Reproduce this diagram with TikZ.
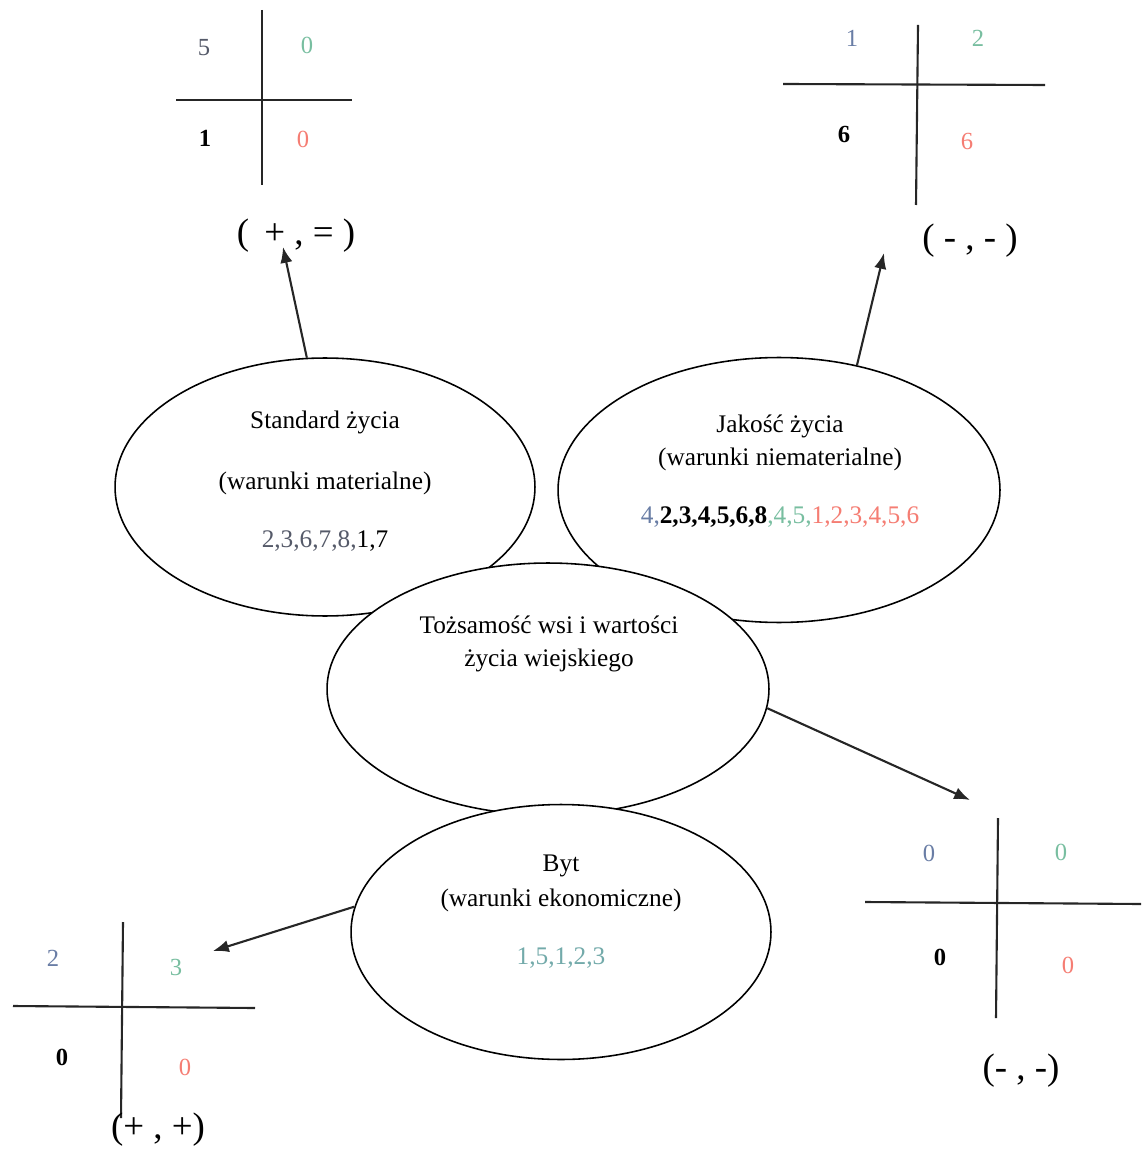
\documentclass[tikz,border=0pt]{standalone}
\usepackage{fontspec}
\setmainfont{Liberation Serif}
\usetikzlibrary{arrows.meta,shapes.geometric}

\definecolor{qblue}{RGB}{105,125,165}
\definecolor{qgreen}{RGB}{120,190,160}
\definecolor{qred}{RGB}{245,125,115}
\definecolor{qteal}{RGB}{115,170,170}
\definecolor{qgray}{RGB}{85,90,105}

\begin{document}
\begin{tikzpicture}[x=0.02cm, y=-0.02cm,
		ell/.style={draw, ellipse, fill=white, line width=0.9pt, inner sep=0pt},
		quad/.style={line width=1.2pt, black!85},
		txt/.style={align=center, font=\fontsize{14.4}{17}\selectfont},
		num/.style={font=\fontsize{14}{16}\selectfont},
		res/.style={font=\fontsize{21}{24}\selectfont},
		arr/.style={line width=1.2pt, black!85, -{Latex[length=9pt,width=7pt]}}]
		
		\useasboundingbox (0,0) rectangle (1141,1151);
		
		% Ellipses
		\node[ell, minimum width=8.4cm, minimum height=5.16cm] (std) at (325,487) {};
		\node[ell, minimum width=8.84cm, minimum height=5.3cm] (jak) at (779,490) {};
		\node[ell, minimum width=8.84cm, minimum height=5.04cm] (toz) at (548,689) {};
		\node[ell, minimum width=8.4cm, minimum height=5.1cm] (byt) at (561,932) {};
		
		\node[txt] (stdtxt) at (325,481) {Standard życia\\[18pt] (warunki materialne)\\[16pt]
			{\color{qgray}2,3,6,7,8,}1,7};
		\node[txt] (jaktxt) at (780,471) {Jakość życia\\[2pt] (warunki niematerialne)\\[16pt]
			{\color{qblue}4,}\textbf{2,3,4,5,6,8}{\color{qgreen},4,5,}{\color{qred}1,2,3,4,5,6}};
		\node[txt] (toztxt) at (549,644) {Tożsamość wsi i wartości\\[2pt] życia wiejskiego};
		\node[txt] (byttxt) at (561,912) {Byt\\[3pt] (warunki ekonomiczne)\\[16pt]
			{\color{qteal}1,5,1,2,3}};
		
		% Standard -> ( + , = )
		\draw[quad] (262,10) -- (262,185);
		\draw[quad] (176,100) -- (352,100);
		\node[num, text=qgray] (a1) at (204,48) {5};
		\node[num, text=qgreen] (a2) at (307,45) {0};
		\node[num] (a3) at (205,138) {\textbf{1}};
		\node[num, text=qred] (a4) at (303,139) {0};
		\node[res] (resA) at (296,236) {(\, + , = )};
		\coordinate (tipA) at (283,247);
		\draw[arr] (std.98) -- (tipA);
		
		% Jakosc -> ( - , - )
		\draw[quad] (918,25) -- (916,205);
		\draw[quad] (783,84) -- (1045,85);
		\node[num, text=qblue] (b1) at (852,38) {1};
		\node[num, text=qgreen] (b2) at (978,38) {2};
		\node[num] (b3) at (844,134) {\textbf{6}};
		\node[num, text=qred] (b4) at (967,141) {6};
		\node[res] (resB) at (970,241) {( - , - )};
		\coordinate (tipB) at (884,253);
		\draw[arr] (jak.58) -- (tipB);
		
		% Tozsamosc -> (- , -)
		\draw[quad] (998,818) -- (996,1018);
		\draw[quad] (865,902) -- (1141,904);
		\node[num, text=qblue] (c1) at (929,853) {0};
		\node[num, text=qgreen] (c2) at (1061,852) {0};
		\node[num] (c3) at (940,957) {\textbf{0}};
		\node[num, text=qred] (c4) at (1068,965) {0};
		\node[res] (resC) at (1021,1071) {(- , -)};
		\coordinate (tipC) at (970,800);
		\draw[arr] (toz.-5) -- (tipC);
		
		% Byt -> (+ , +)
		\draw[quad] (123,922) -- (121,1118);
		\draw[quad] (13,1006) -- (255,1008);
		\node[num, text=qblue] (d1) at (53,958) {2};
		\node[num, text=qgreen] (d2) at (176,967) {3};
		\node[num] (d3) at (62,1057) {\textbf{0}};
		\node[num, text=qred] (d4) at (185,1067) {0};
		\node[res] (resD) at (158,1130) {(+ , +)};
		\coordinate (tipD) at (213,951);
		\draw[arr] (byt.173) -- (tipD);
		
	\end{tikzpicture}
\end{document}
